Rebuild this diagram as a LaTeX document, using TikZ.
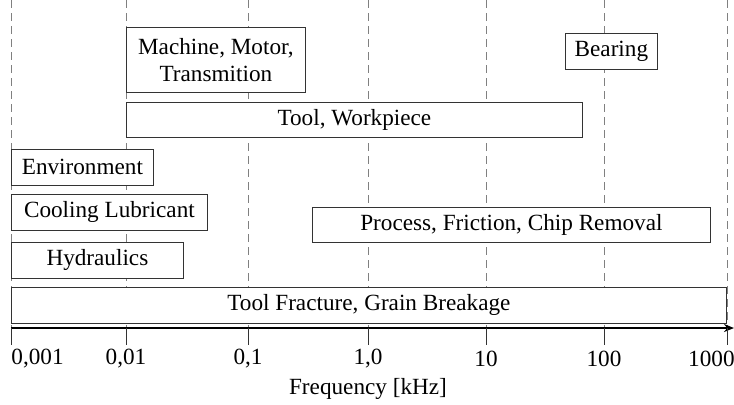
\documentclass[tikz,border=0pt]{standalone}
\usepackage{fontspec}
\setmainfont{Liberation Serif}
\usetikzlibrary{arrows.meta}

\tikzset{
  band/.style={draw=black!80, fill=white, inner sep=0pt, align=center,
               anchor=north west, minimum height=18pt},
  grid line/.style={gray, dashed, dash pattern=on 4pt off 2.5pt, line width=0.4pt},
  tick line/.style={black!80, line width=0.5pt}
}

\begin{document}
\begin{tikzpicture}[x=0.5pt, y=-0.5pt, font=\fontsize{11.6}{13.5}\selectfont]
                    \useasboundingbox (0,0) rectangle (734,404);

                    % decades
                    \foreach \x in {11,126,248,368,486,604,727}
                        \draw[grid line] (\x,0) -- (\x,327);

                    \node[band, minimum width=89.5pt, minimum height=32.5pt] (machine) at (126,27) {Machine, Motor,\\Transmition};
                    \node[band, minimum width=46pt] (bearing) at (565,33) {Bearing};
                    \node[band, minimum width=228pt, minimum height=17.5pt] (tool) at (126,102) {Tool, Workpiece};
                    \node[band, minimum width=71pt] (environment) at (11,149) {Environment};
                    \node[band, minimum width=98pt] (cooling) at (11,194) {Cooling Lubricant};
                    \node[band, minimum width=86pt] (hydraulics) at (11,242) {Hydraulics};
                    \node[band, minimum width=199pt, minimum height=17.5pt] (process) at (312,207) {Process, Friction, Chip Removal};
                    \node[band, minimum width=357.5pt] (fracture) at (11,287) {Tool Fracture, Grain Breakage};

                    % axis
                    \coordinate (origin) at (11,328);
                    \coordinate (end) at (734,328);
                    \draw[line width=1.2pt, -{Stealth[length=5pt, width=4pt]}] (origin) -- (end);

                    \foreach \x/\lab/\anc in {11/{0,001}/west, 126/{0,01}/center, 248/{0,1}/center,
                                               368/{1,0}/center, 486/{10}/center, 604/{100}/center}
                        {
                        \draw[tick line] (\x,328) -- (\x,345);
                        \node[anchor=\anc, inner sep=0pt] (lab\x) at (\x,359) {\lab};
                        }
                    \draw[tick line] (727,328) -- (727,345);
                    \node[anchor=east, inner sep=0pt] (lab727) at (735,359) {1000};

                    \node (title) at (368,389) {Frequency [kHz]};

                \end{tikzpicture}
\end{document}
